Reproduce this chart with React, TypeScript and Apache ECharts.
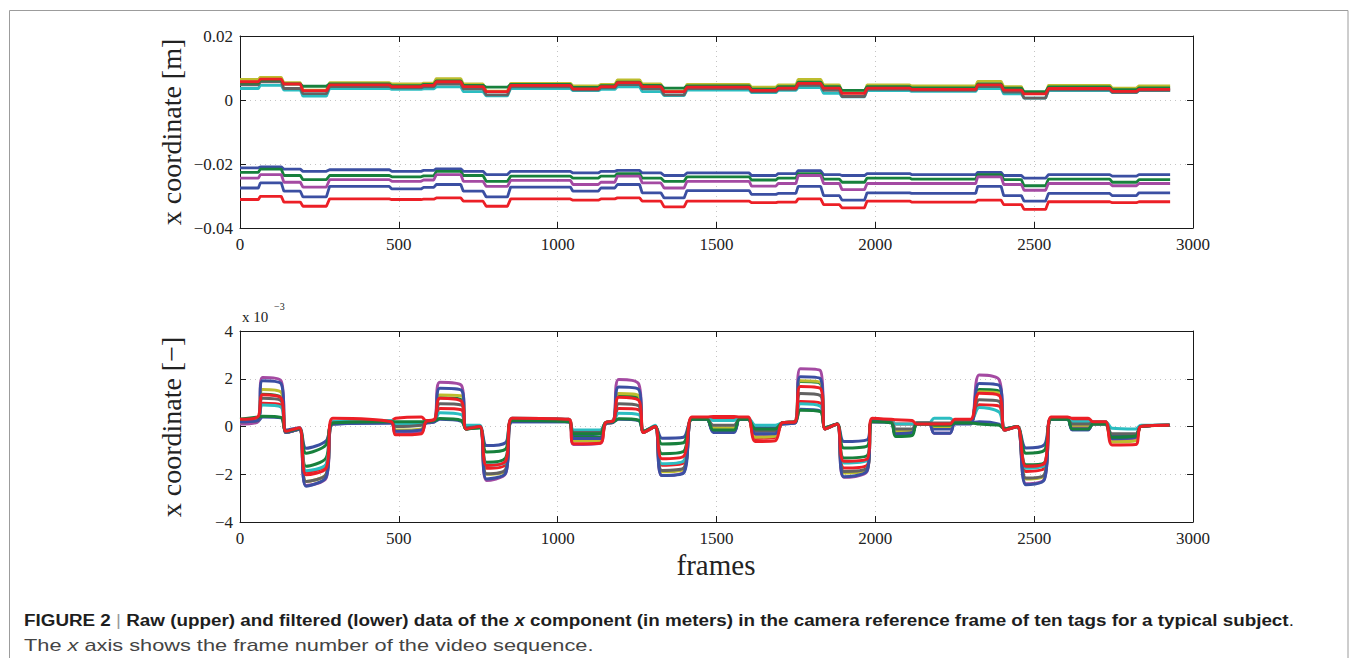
import React, { useEffect, useRef } from "react";
import * as echarts from "echarts";

// ---------- series identity ----------
const seriesNames = ["tag 1", "tag 2", "tag 3", "tag 4", "tag 5", "tag 6", "tag 7", "tag 8", "tag 9", "tag 10"];
const seriesColors = ["#3b4fa2", "#17803c", "#ec1f26", "#2bbdc1", "#a44aa2", "#bdbd2e", "#626262", "#3b4fa2", "#17803c", "#ec1f26"];

// ---------- axes ----------
const frameTicks = [0, 500, 1000, 1500, 2000, 2500, 3000];
const rawTicks = [-40, -20, 0, 20]; // in 1e-3 m
const filtTicks = [-4, -2, 0, 2, 4]; // in 1e-3

// ---------- upper plot: raw data (1e-3 m), one level per plateau ----------
const rawSegStart = [0, 64, 138, 198, 282, 478, 578, 618, 703, 775, 852, 1048, 1136, 1188, 1266, 1335, 1407, 1610, 1694, 1757, 1837, 1895, 1974, 2114, 2322, 2404, 2468, 2545, 2746, 2830];
const rawSegEnd = [58, 130, 190, 272, 470, 570, 610, 695, 765, 842, 1040, 1128, 1180, 1258, 1325, 1398, 1603, 1687, 1750, 1828, 1887, 1966, 2108, 2316, 2396, 2460, 2536, 2738, 2822, 2928];

const raw1 = [-21.2, -20.9, -21.6, -22.3, -21.8, -22.3, -22.0, -21.5, -22.3, -23.3, -22.3, -22.8, -22.3, -22.0, -22.8, -23.6, -22.8, -23.6, -23.0, -22.1, -23.3, -23.6, -23.0, -23.3, -22.6, -23.6, -24.4, -23.3, -23.8, -23.3];
const raw2 = [-22.6, -21.6, -23.6, -24.9, -23.6, -24.0, -23.7, -22.3, -23.6, -25.4, -23.8, -24.4, -23.8, -23.0, -24.4, -25.4, -24.0, -25.0, -24.4, -23.0, -24.7, -25.7, -24.4, -24.7, -23.3, -24.9, -26.8, -24.7, -25.7, -24.9];
const raw3 = [-31.1, -30.1, -31.9, -33.2, -30.9, -31.1, -31.0, -30.6, -31.6, -33.2, -30.9, -31.3, -30.9, -30.6, -31.6, -33.4, -31.6, -32.1, -31.9, -30.9, -32.7, -33.7, -31.6, -31.9, -31.3, -32.7, -34.2, -31.8, -32.1, -31.8];
const raw4 = [3.6, 4.6, 3.1, 1.2, 3.6, 3.3, 3.5, 4.1, 2.6, 1.3, 3.6, 2.9, 3.3, 4.1, 2.6, 1.4, 3.1, 2.3, 3.0, 3.9, 2.1, 1.0, 2.9, 2.7, 3.6, 1.9, 0.6, 2.9, 2.3, 2.9];
const raw5 = [-24.4, -23.3, -25.7, -27.2, -24.9, -25.4, -25.0, -23.3, -25.4, -27.0, -25.1, -26.4, -25.7, -23.8, -25.9, -27.5, -25.4, -26.9, -26.1, -23.6, -26.1, -28.0, -26.1, -26.1, -24.0, -26.4, -28.2, -26.1, -26.8, -26.1];
const raw6 = [6.4, 7.1, 5.4, 3.1, 5.4, 5.0, 5.3, 6.7, 5.0, 2.8, 5.2, 4.4, 4.9, 6.3, 5.0, 2.8, 4.9, 4.0, 4.7, 6.4, 4.7, 2.2, 4.7, 4.4, 5.8, 4.2, 2.0, 4.6, 3.7, 4.4];
const raw7 = [4.7, 5.7, 3.6, 2.0, 4.2, 3.8, 4.1, 5.0, 3.5, 1.6, 4.1, 3.2, 3.8, 4.8, 3.5, 1.6, 3.6, 2.6, 3.3, 4.6, 3.0, 1.1, 3.3, 3.0, 4.2, 2.5, 0.6, 3.2, 2.4, 3.0];
const raw8 = [-27.5, -25.9, -28.5, -30.3, -27.0, -27.8, -27.3, -26.4, -28.5, -30.3, -27.2, -28.5, -27.5, -26.4, -29.0, -30.6, -28.3, -29.5, -29.2, -27.0, -29.9, -31.3, -29.0, -29.2, -27.0, -29.9, -31.6, -29.2, -29.9, -29.0];
const raw9 = [5.3, 6.2, 5.0, 4.3, 5.0, 4.5, 4.9, 6.0, 4.6, 4.0, 4.9, 3.9, 4.5, 5.6, 4.6, 3.7, 4.4, 3.4, 4.2, 5.6, 4.2, 3.0, 4.2, 3.8, 5.0, 3.7, 2.6, 4.1, 3.2, 3.8];
const raw10 = [5.7, 6.5, 5.0, 2.9, 4.7, 4.2, 4.6, 5.7, 4.2, 2.6, 4.6, 3.5, 4.2, 5.4, 4.2, 2.6, 4.0, 3.0, 3.7, 5.2, 3.7, 2.1, 3.7, 3.3, 4.7, 3.1, 1.9, 3.6, 2.7, 3.3];

// ---------- lower plot: filtered data (1e-3), keyframes (start/end of each plateau) ----------
const filtFrames = [
  0, 56, 71, 129, 145, 187, 208, 271, 292, 476, 490, 571, 585, 613, 629, 697,
  712, 755, 776, 836, 857, 1035, 1050, 1134, 1150, 1176, 1192, 1255, 1270, 1307,
  1328, 1396, 1422, 1470, 1490, 1555, 1572, 1600, 1622, 1685, 1706, 1748, 1764, 1827,
  1842, 1880, 1901, 1974, 1990, 2050, 2064, 2116, 2130, 2170, 2185, 2235, 2250, 2300,
  2327, 2390, 2407, 2447, 2474, 2532, 2553, 2605, 2620, 2670, 2685, 2725, 2745, 2820,
  2836, 2926,
];
const filt1 = [0.15, 0.2, 0.4, 0.36, -0.15, -0.05, -0.91, -0.6, 0.1, 0.15, 0.1, 0.15, 0.15, 0.2, 0.3, 0.22, -0.05, 0, -0.8, -0.68, 0.2, 0.2, -0.35, -0.3, 0.1, 0.2, 0.3, 0.25, -0.2, 0, -0.49, -0.45, 0.3, 0.3, -0.2, -0.2, 0.3, 0.3, -0.05, -0.05, 0.1, 0.15, 0.72, 0.65, -0.05, 0.1, -0.63, -0.56, 0.2, 0.2, -0.3, -0.25, 0.1, 0.1, -0.1, -0.1, 0.15, 0.15, 0.2, 0.1, -0.1, 0, -0.9, -0.77, 0.35, 0.35, -0.14, -0.14, 0.15, 0.15, -0.4, -0.35, 0, 0.05];
const filt2 = [0.3, 0.35, 1.35, 1.22, -0.25, -0.1, -1.67, -1.32, 0.15, 0.2, 0.15, 0.1, 0.2, 0.25, 1.2, 1.12, -0.1, -0.05, -1.5, -1.32, 0.25, 0.2, -0.45, -0.45, 0.15, 0.25, 1.3, 1.2, -0.25, 0, -1.14, -1.05, 0.3, 0.3, -0.1, -0.1, 0.3, 0.3, -0.15, -0.15, 0.15, 0.2, 1.88, 1.8, -0.1, 0.1, -1.32, -1.22, 0.25, 0.2, -0.35, -0.3, 0.15, 0.15, 0, 0, 0.2, 0.2, 1.55, 1.48, -0.15, 0, -1.6, -1.52, 0.35, 0.35, -0.1, -0.1, 0.1, 0.1, -0.55, -0.5, 0, 0.05];
const filt3 = [0.2, 0.3, 0.97, 0.9, -0.25, -0.1, -1.91, -1.62, 0.2, 0.25, 0.35, 0.4, 0.25, 0.3, 0.75, 0.7, -0.1, 0, -1.75, -1.6, 0.35, 0.3, -0.55, -0.55, 0.15, 0.25, 0.75, 0.7, -0.25, 0, -1.62, -1.52, 0.35, 0.35, 0.3, 0.3, 0.35, 0.35, -0.5, -0.45, 0.15, 0.2, 1.05, 0.98, -0.1, 0.1, -1.74, -1.62, 0.3, 0.25, 0.1, 0.1, 0.15, 0.15, 0.1, 0.1, 0.25, 0.25, 0.91, 0.85, -0.15, 0, -1.88, -1.75, 0.35, 0.35, 0.25, 0.25, 0.2, 0.2, -0.55, -0.5, 0, 0.05];
const filt4 = [0.25, 0.3, 0.9, 0.82, -0.25, -0.1, -1.85, -1.58, 0.2, 0.25, 0.1, 0.15, 0.2, 0.25, 0.58, 0.5, 0.05, 0.05, -1.62, -1.5, 0.35, 0.3, -0.15, -0.15, 0.15, 0.25, 0.55, 0.5, -0.2, 0.05, -1.56, -1.45, 0.35, 0.35, 0.25, 0.25, 0.35, 0.35, 0.05, 0.05, 0.15, 0.2, 0.95, 0.85, -0.05, 0.1, -1.53, -1.42, 0.25, 0.25, 0.1, 0.1, 0.15, 0.15, 0.35, 0.35, 0.2, 0.2, 0.8, 0.6, -0.1, 0, -1.75, -1.62, 0.35, 0.35, 0.2, 0.2, 0.2, 0.2, -0.07, -0.1, 0.05, 0.05];
const filt5 = [0.1, 0.2, 2.05, 1.92, -0.25, -0.12, -2.47, -2.16, 0.1, 0.2, -0.3, -0.25, 0.15, 0.25, 1.85, 1.72, -0.1, 0, -2.26, -1.98, 0.25, 0.2, -0.75, -0.7, 0.1, 0.2, 1.97, 1.79, -0.25, 0, -2.05, -1.92, 0.3, 0.3, -0.2, -0.2, 0.3, 0.3, -0.4, -0.4, 0.1, 0.2, 2.42, 2.34, -0.1, 0.1, -2.13, -1.88, 0.2, 0.2, -0.25, -0.2, 0.1, 0.1, -0.28, -0.28, 0.15, 0.15, 2.16, 1.95, -0.15, 0, -2.4, -2.2, 0.3, 0.3, 0, 0, 0.1, 0.1, -0.6, -0.55, 0, 0.05];
const filt6 = [0.2, 0.3, 1.55, 1.44, -0.25, -0.12, -2.3, -2.0, 0.1, 0.2, -0.15, -0.1, 0.15, 0.25, 1.32, 1.28, -0.1, 0, -2.0, -1.85, 0.3, 0.25, -0.6, -0.6, 0.1, 0.2, 1.38, 1.3, -0.25, 0, -1.9, -1.8, 0.3, 0.3, -0.05, -0.05, 0.3, 0.3, -0.45, -0.4, 0.1, 0.2, 1.92, 1.85, -0.1, 0.1, -1.95, -1.8, 0.25, 0.2, -0.2, -0.15, 0.1, 0.1, 0, 0, 0.15, 0.15, 1.46, 1.4, -0.15, 0, -2.2, -2.05, 0.3, 0.3, 0.05, 0.05, 0.1, 0.1, -0.65, -0.6, 0, 0.05];
const filt7 = [0.2, 0.25, 1.18, 1.08, -0.25, -0.12, -2.3, -2.0, 0.15, 0.2, 0, 0.05, 0.15, 0.25, 0.95, 0.9, -0.05, 0, -1.98, -1.8, 0.3, 0.25, -0.25, -0.25, 0.15, 0.2, 0.95, 0.87, -0.2, 0, -1.84, -1.75, 0.3, 0.3, 0.05, 0.05, 0.3, 0.3, -0.2, -0.2, 0.15, 0.2, 1.38, 1.3, -0.05, 0.1, -1.88, -1.75, 0.25, 0.2, -0.1, -0.1, 0.15, 0.15, 0.15, 0.15, 0.2, 0.2, 1.12, 1.05, -0.1, 0, -2.16, -2.02, 0.3, 0.3, 0.1, 0.1, 0.15, 0.15, -0.3, -0.3, 0, 0.05];
const filt8 = [0.2, 0.25, 1.92, 1.8, -0.25, -0.12, -2.5, -2.12, 0.1, 0.15, -0.2, -0.15, 0.15, 0.2, 1.6, 1.52, -0.1, 0, -2.2, -1.95, 0.2, 0.2, -0.5, -0.5, 0.1, 0.2, 1.65, 1.55, -0.25, 0, -2.05, -1.95, 0.3, 0.3, -0.25, -0.25, 0.3, 0.3, -0.3, -0.3, 0.1, 0.15, 2.08, 2.0, -0.1, 0.1, -2.1, -1.85, 0.2, 0.15, -0.3, -0.25, 0.1, 0.1, -0.28, -0.28, 0.1, 0.1, 1.8, 1.72, -0.15, 0, -2.44, -2.23, 0.3, 0.3, -0.14, -0.14, 0.1, 0.1, -0.5, -0.45, 0, 0.05];
const filt9 = [0.3, 0.4, 0.43, 0.38, -0.2, -0.08, -1.12, -0.77, 0.15, 0.2, 0.2, 0.2, 0.2, 0.25, 0.33, 0.25, -0.1, -0.05, -1.07, -0.95, 0.25, 0.2, -0.3, -0.3, 0.15, 0.2, 0.32, 0.26, -0.2, 0, -0.73, -0.68, 0.3, 0.3, -0.15, -0.15, 0.3, 0.3, -0.1, -0.1, 0.15, 0.2, 0.68, 0.62, -0.05, 0.1, -0.9, -0.82, 0.2, 0.15, -0.42, -0.38, 0.1, 0.1, 0.05, 0.05, 0.15, 0.15, 0.1, 0.05, -0.1, 0, -1.12, -1.0, 0.3, 0.3, -0.1, -0.1, 0.1, 0.1, -0.45, -0.4, 0, 0.05];
const filt10 = [0.3, 0.4, 1.33, 1.2, -0.2, -0.05, -2.02, -1.74, 0.35, 0.2, -0.35, -0.3, 0.2, 0.3, 1.18, 1.05, -0.1, 0, -1.63, -1.45, 0.35, 0.3, -0.72, -0.7, 0.15, 0.25, 1.23, 1.1, -0.25, 0, -1.35, -1.25, 0.4, 0.4, 0.42, 0.42, 0.4, 0.4, -0.63, -0.6, 0.15, 0.2, 1.68, 1.6, -0.1, 0.1, -1.46, -1.36, 0.35, 0.3, 0.28, 0.25, 0.1, 0.1, 0.1, 0.1, 0.3, 0.3, 1.39, 1.3, -0.15, 0, -1.67, -1.55, 0.4, 0.4, 0.35, 0.35, 0.2, 0.2, -0.77, -0.75, 0, 0.05];

const rawSeries = [raw1, raw2, raw3, raw4, raw5, raw6, raw7, raw8, raw9, raw10];
const filtSeries = [filt1, filt2, filt3, filt4, filt5, filt6, filt7, filt8, filt9, filt10];

const SERIF = "'Liberation Serif', 'DejaVu Serif', serif";
const SANS = "'Liberation Sans', Arial, sans-serif";
const MINUS = "\u2212";

function rawData(vals: number[]) {
  const out: number[][] = [];
  for (let i = 0; i < vals.length; i++) {
    out.push([rawSegStart[i], vals[i]]);
    out.push([rawSegEnd[i], vals[i]]);
  }
  return out;
}
function filtData(vals: number[]) {
  const n = Math.min(vals.length, filtFrames.length);
  const out: number[][] = [];
  for (let i = 0; i < n; i++) out.push([filtFrames[i], vals[i]]);
  return out;
}

function axisPair(gridIndex: number, isX: boolean, min: number, max: number, interval: number, fmt: (v: number) => string) {
  const line = { show: true, onZero: false, lineStyle: { color: "#1a1a1a", width: 1 } };
  const tick = { show: true, inside: true, length: 6, lineStyle: { color: "#1a1a1a", width: 1 } };
  const main: any = {
    gridIndex, type: "value", min, max, interval,
    position: isX ? "bottom" : "left",
    axisLine: line, axisTick: tick,
    axisLabel: { show: true, fontFamily: SERIF, fontSize: 17, color: "#222", margin: isX ? 8 : 7, formatter: fmt },
    splitLine: { show: true, lineStyle: { color: "#c4c4c4", width: 1, type: [1, 4] } },
  };
  const mirror: any = {
    gridIndex, type: "value", min, max, interval,
    position: isX ? "top" : "right",
    axisLine: line, axisTick: tick,
    axisLabel: { show: false }, splitLine: { show: false },
  };
  return [main, mirror];
}

const fmtFrame = (v: number) => String(v);
const fmtRaw = (v: number) => (v === 0 ? "0" : (v < 0 ? MINUS : "") + (Math.abs(v) / 1000).toFixed(2));
const fmtFilt = (v: number) => (v === 0 ? "0" : (v < 0 ? MINUS : "") + String(Math.abs(v)));

export default function App() {
  const ref = useRef<HTMLDivElement>(null);
  useEffect(() => {
    if (!ref.current) return;
    const chart = echarts.init(ref.current, undefined, { renderer: "svg" });
    const [x0, x0m] = axisPair(0, true, frameTicks[0], frameTicks[frameTicks.length - 1], 500, fmtFrame);
    const [x1, x1m] = axisPair(1, true, frameTicks[0], frameTicks[frameTicks.length - 1], 500, fmtFrame);
    const [y0, y0m] = axisPair(0, false, rawTicks[0], rawTicks[rawTicks.length - 1], 20, fmtRaw);
    const [y1, y1m] = axisPair(1, false, filtTicks[0], filtTicks[filtTicks.length - 1], 2, fmtFilt);

    const series: any[] = [];
    rawSeries.forEach((vals, i) => {
      series.push({
        name: seriesNames[i], type: "line", xAxisIndex: 0, yAxisIndex: 0,
        data: rawData(vals), showSymbol: false, symbol: "none",
        lineStyle: { color: seriesColors[i], width: 2.8 }, itemStyle: { color: seriesColors[i] },
      });
    });
    filtSeries.forEach((vals, i) => {
      series.push({
        name: seriesNames[i] + " (filtered)", type: "line", xAxisIndex: 2, yAxisIndex: 2,
        data: filtData(vals), showSymbol: false, symbol: "none", smooth: 0.3,
        lineStyle: { color: seriesColors[i], width: 3 }, itemStyle: { color: seriesColors[i] },
      });
    });

    chart.setOption({
      animation: false,
      backgroundColor: "#ffffff",
      grid: [
        { left: 240, top: 36, width: 953, height: 192 },
        { left: 240, top: 331, width: 953, height: 191 },
      ],
      xAxis: [x0, x0m, x1, x1m],
      yAxis: [y0, y0m, y1, y1m],
      series,
      graphic: [
        { type: "rect", shape: { x: 9.5, y: 10.5, width: 1338.5, height: 700 }, style: { fill: "none", stroke: "#9c9c9c", lineWidth: 1 }, silent: true },
        { type: "text", x: 171, y: 132, rotation: Math.PI / 2, style: { text: "x coordinate [m]", font: `28px ${SERIF}`, fill: "#222", align: "center", verticalAlign: "middle" } },
        { type: "text", x: 171, y: 427, rotation: Math.PI / 2, style: { text: "x coordinate [\u2212]", font: `28px ${SERIF}`, fill: "#222", align: "center", verticalAlign: "middle" } },
        { type: "text", x: 716, y: 565, style: { text: "frames", font: `29px ${SERIF}`, fill: "#222", align: "center", verticalAlign: "middle" } },
        { type: "text", x: 242, y: 317, style: { text: "x 10", font: `15px ${SERIF}`, fill: "#222", align: "left", verticalAlign: "middle" } },
        { type: "text", x: 274, y: 306, style: { text: MINUS + "3", font: `10px ${SERIF}`, fill: "#222", align: "left", verticalAlign: "middle" } },
        {
          type: "text", x: 24, y: 621, scaleX: 1.177,
          style: {
            text: "{b|FIGURE 2 }{bar||}{b| Raw (upper) and filtered (lower) data of the }{bi|x}{b| component (in meters) in the camera reference frame of ten tags for a typical subject}{r|.}",
            verticalAlign: "middle", align: "left",
            rich: {
              b: { font: `bold 16px ${SANS}`, fill: "#1e1e1e" },
              bi: { font: `italic bold 16px ${SANS}`, fill: "#1e1e1e" },
              bar: { font: `16px ${SANS}`, fill: "#9a9a9a" },
              r: { font: `16px ${SANS}`, fill: "#1e1e1e" },
            },
          },
        },
        {
          type: "text", x: 24, y: 645, scaleX: 1.28,
          style: {
            text: "{r|The }{i|x}{r| axis shows the frame number of the video sequence.}",
            verticalAlign: "middle", align: "left",
            rich: {
              r: { font: `17px ${SANS}`, fill: "#444" },
              i: { font: `italic 17px ${SANS}`, fill: "#444" },
            },
          },
        },
      ],
    });
    return () => chart.dispose();
  }, []);
  return <div ref={ref} style={{ position: "fixed", left: 0, top: 0, width: 1358, height: 658, background: "#fff" }} />;
}
